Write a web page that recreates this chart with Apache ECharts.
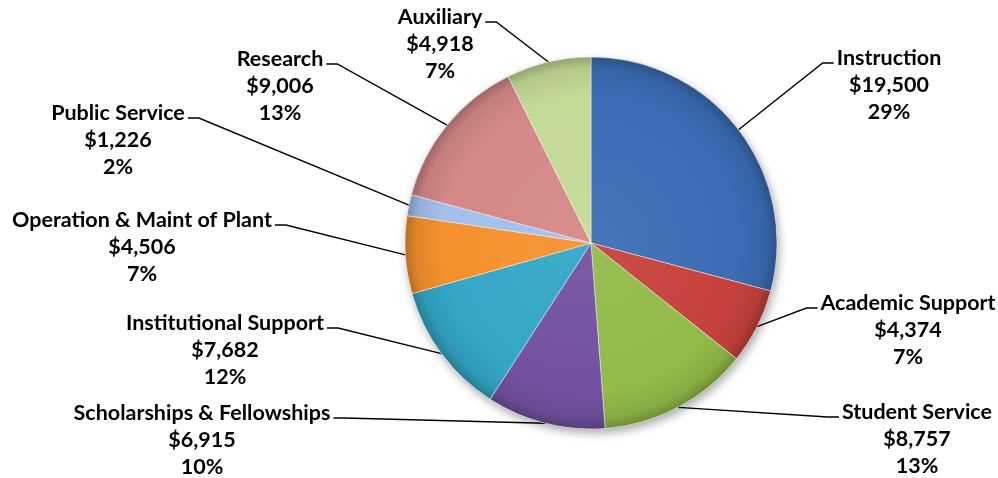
<!DOCTYPE html>
<html>
<head>
<meta charset="utf-8">
<script src="https://cdn.jsdelivr.net/npm/echarts@6/dist/echarts.min.js"></script>
<style>
  html, body { margin: 0; padding: 0; background: #ffffff; }
  #chart { width: 998px; height: 478px; }
</style>
</head>
<body>
<div id="chart"></div>
<script>
// Spending by function (thousands of dollars)
const categories = [
  'Instruction',
  'Academic Support',
  'Student Service',
  'Scholarships & Fellowships',
  'Institutional Support',
  'Operation & Maint of Plant',
  'Public Service',
  'Research',
  'Auxiliary'
];
const spending = [19500, 4374, 8757, 6915, 7682, 4506, 1226, 9006, 4918];

// Slice colours
const sliceColors = [
  '#3b6cb4', '#c6423c', '#93ba48', '#7252a0', '#33a6c6',
  '#f5902d', '#a5bfec', '#d48887', '#c3d996'
];

// Pie geometry and label placement (centre x of each label block, centre y of its first line)
const CENTER = [591, 243];
const RADIUS = 186;
const LINE_H = 27;
const labelSpots = [
  [889, 58], [908, 303], [917, 412], [202, 413], [225, 323],
  [142, 220], [118, 113], [280, 59], [440, 17]
];

function shade(hex, amt) {
  const n = parseInt(hex.slice(1), 16);
  const r = (n >> 16) & 255, g = (n >> 8) & 255, b = n & 255;
  const f = (c) => Math.max(0, Math.min(255, Math.round(amt >= 0 ? c + (255 - c) * amt : c * (1 + amt))));
  return 'rgb(' + f(r) + ',' + f(g) + ',' + f(b) + ')';
}

function fillFor(hex) {
  return {
    type: 'radial', x: CENTER[0], y: CENTER[1], r: RADIUS, global: true,
    colorStops: [
      { offset: 0, color: shade(hex, 0.06) },
      { offset: 0.8, color: hex },
      { offset: 0.94, color: shade(hex, -0.08) },
      { offset: 1, color: shade(hex, -0.25) }
    ]
  };
}

const pieData = categories.map((name, i) => ({
  name: name,
  value: spending[i],
  itemStyle: { color: fillFor(sliceColors[i]) }
}));

const fmtMoney = (v) => '$' + v.toLocaleString('en-US');

const chart = echarts.init(document.getElementById('chart'), null, { renderer: 'canvas' });

chart.setOption({
  backgroundColor: '#ffffff',
  animation: false,
  series: [
    {
      // soft drop shadow under the pie
      type: 'pie',
      silent: true,
      center: CENTER,
      radius: RADIUS,
      startAngle: 90,
      clockwise: true,
      z: 1,
      label: { show: false },
      labelLine: { show: false },
      data: categories.map((name, i) => ({ name: name, value: spending[i] })),
      itemStyle: {
        color: '#ffffff',
        shadowBlur: 10,
        shadowColor: 'rgba(0,0,0,0.35)',
        shadowOffsetX: 2,
        shadowOffsetY: 4
      }
    },
    {
      type: 'pie',
      center: CENTER,
      radius: RADIUS,
      startAngle: 90,
      clockwise: true,
      z: 2,
      percentPrecision: 0,
      avoidLabelOverlap: false,
      data: pieData,
      itemStyle: {
        borderColor: 'rgba(255,255,255,0.45)',
        borderWidth: 1
      },
      label: {
        show: true,
        position: 'outside',
        color: '#000000',
        fontFamily: 'Lato',
        fontWeight: 'bold',
        fontSize: 21.5,
        lineHeight: LINE_H,
        formatter: (p) => p.name + '\n' + fmtMoney(p.value) + '\n' + Math.round(p.percent) + '%'
      },
      labelLine: {
        show: true,
        smooth: false,
        lineStyle: { color: '#000000', width: 1.4 }
      },
      labelLayout: function (p) {
        const spot = labelSpots[p.dataIndex];
        const w = p.labelRect.width;
        const onRight = spot[0] > CENTER[0];
        const lineY = spot[1] + 5;
        const textEdge = onRight ? spot[0] - w / 2 - 3 : spot[0] + w / 2 + 3;
        const elbow = onRight ? textEdge - 11 : textEdge + 11;
        const edge = p.labelLinePoints ? p.labelLinePoints[0] : [elbow, lineY];
        return {
          x: spot[0],
          y: spot[1] - LINE_H / 2,
          align: 'center',
          verticalAlign: 'top',
          labelLinePoints: [edge, [elbow, lineY], [textEdge, lineY]]
        };
      }
    }
  ]
});
</script>
</body>
</html>
